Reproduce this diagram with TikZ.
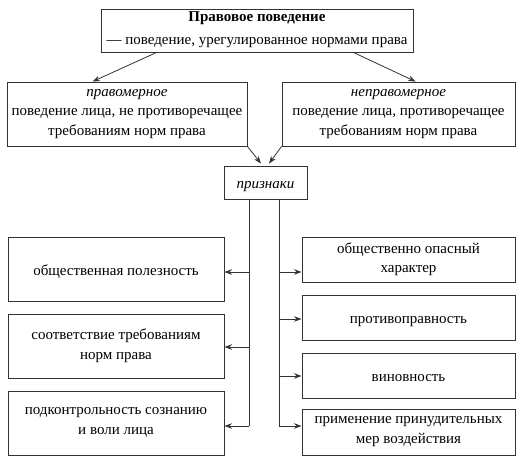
\documentclass[tikz,border=0pt]{standalone}
\usepackage{fontspec}
\setmainfont{Liberation Serif}
\usetikzlibrary{arrows.meta,calc}
\begin{document}
\begin{tikzpicture}[x=1pt,y=-1pt,
  basebox/.style={draw=black!80,line width=0.9pt,rectangle,align=center,inner sep=0pt,
    font=\fontsize{15}{19.5}\selectfont,text=black,
    execute at end node={\rule[-4pt]{0pt}{0pt}}},
  box/.style={basebox,execute at begin node={\rule{0pt}{16pt}}},
  titlebox/.style={basebox,execute at begin node={\rule{0pt}{13pt}}},
  conn/.style={draw=black!80,line width=0.8pt},
  arr/.style={conn,-{Stealth[length=7.5pt,width=5.5pt]}}]
\useasboundingbox (0,0) rectangle (526,465);
\node[titlebox,minimum width=312pt,minimum height=43pt] (top) at (257,30.5)
  {\textbf{Правовое поведение}\\[3.5pt]— поведение, урегулированное нормами права};
\node[box,minimum width=240pt,minimum height=64pt] (lft) at (127,114)
  {\textit{правомерное}\\поведение лица, не противоречащее\\требованиям норм права};
\node[box,minimum width=233pt,minimum height=64pt] (rgt) at (398.5,114)
  {\textit{неправомерное}\\поведение лица, противоречащее\\требованиям норм права};
\node[box,minimum width=83pt,minimum height=33pt] (priz) at (265.5,182.5) {\textit{признаки}};
\node[box,minimum width=216pt,minimum height=64pt] (L1) at (116,269) {общественная полезность};
\node[box,minimum width=216pt,minimum height=64pt] (L2) at (116,346) {соответствие требованиям\\норм права};
\node[box,minimum width=216pt,minimum height=64pt] (L3) at (116,423) {подконтрольность сознанию\\и воли лица};
\node[box,minimum width=213pt,minimum height=45pt] (R1) at (408.5,259.5) {общественно опасный\\характер};
\node[box,minimum width=213pt,minimum height=45pt] (R2) at (408.5,317.5) {противоправность};
\node[box,minimum width=213pt,minimum height=45pt] (R3) at (408.5,375.5) {виновность};
\node[box,minimum width=213pt,minimum height=46pt] (R4) at (408.5,432) {применение принудительных\\мер воздействия};
% top arrows
\draw[arr] ($(top.south west)+(56,0)$) -- ($(lft.north west)+(86,0)$);
\draw[arr] ($(top.south east)+(-60,0)$) -- ($(rgt.north west)+(134,0)$);
\draw[arr] (lft.south east) -- ($(priz.north)+(-4.5,-2)$);
\draw[arr] (rgt.south west) -- ($(priz.north)+(3.5,-2)$);
% spines
\coordinate (ls) at (249,426);
\coordinate (rs) at (279,426);
\draw[conn] (priz.south -| ls) -- (ls);
\draw[conn] (priz.south -| rs) -- (rs);
\coordinate (a1) at (249,272);
\coordinate (a2) at (249,347);
\draw[arr] (a1) -- (a1 -| L1.east);
\draw[arr] (a2) -- (a2 -| L2.east);
\draw[arr] (ls) -- (ls -| L3.east);
\coordinate (b1) at (279,272);
\coordinate (b2) at (279,319);
\coordinate (b3) at (279,376);
\draw[arr] (b1) -- (b1 -| R1.west);
\draw[arr] (b2) -- (b2 -| R2.west);
\draw[arr] (b3) -- (b3 -| R3.west);
\draw[arr] (rs) -- (rs -| R4.west);
\end{tikzpicture}
\end{document}
